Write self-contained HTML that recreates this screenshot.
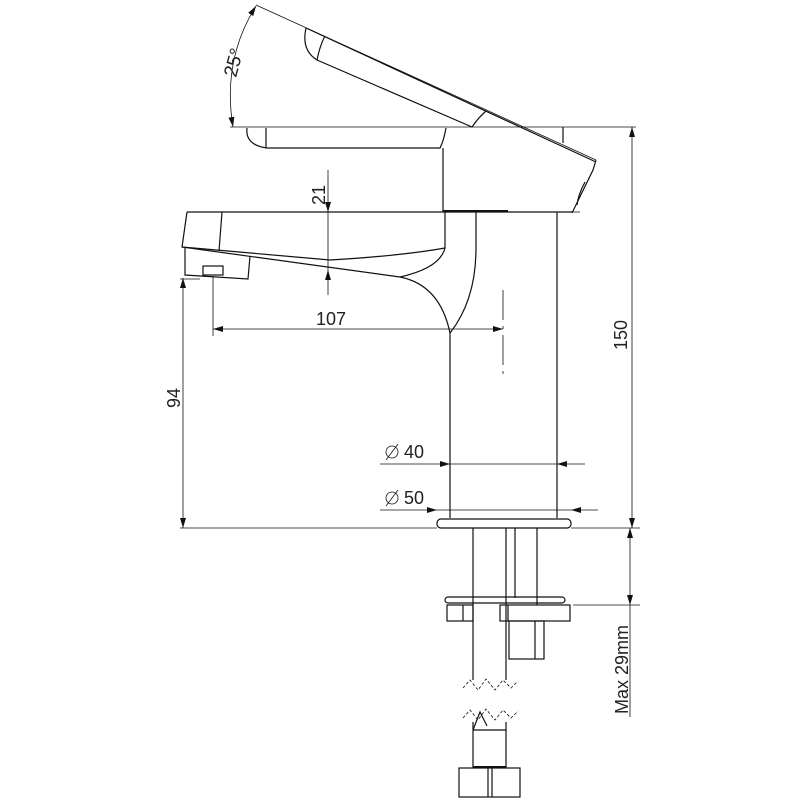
<!DOCTYPE html>
<html><head><style>html,body{margin:0;padding:0;background:#fff}svg{display:block}text{font-family:"Liberation Sans",sans-serif;font-size:18px;fill:#222}</style></head>
<body>
<svg width="800" height="800" viewBox="0 0 800 800" xmlns="http://www.w3.org/2000/svg">
<defs>
<marker id="a" viewBox="0 0 10 6" refX="10" refY="3" markerWidth="10" markerHeight="6" orient="auto-start-reverse" markerUnits="userSpaceOnUse"><path d="M0,0L10,3L0,6z" fill="#111"/></marker>
</defs>
<g fill="none" stroke="#111" stroke-width="1.2">
<line x1="256" y1="5" x2="596" y2="160" stroke-width="0.8"/>
<line x1="306" y1="28" x2="596" y2="162" stroke-width="1.2"/>
<path d="M306,28 Q301,50 317,60 L472,127"/>
<path d="M317,60 Q320,45 325,36"/>
<path d="M472,127 Q478,118 486,111"/>
<path d="M596,160 L593,170 L572,213"/>
<path d="M585,182 Q578,195 577,205"/>
<line x1="230" y1="127" x2="564" y2="127" stroke-width="0.8"/>
<line x1="564" y1="127" x2="636" y2="127" stroke-width="0.8"/>
<path d="M247,128 Q245,145 267,148 L440,148 Q444,140 446,128"/>
<line x1="266" y1="128" x2="266" y2="148"/>
<line x1="443" y1="148" x2="443" y2="212"/>
<line x1="563" y1="127" x2="563" y2="143"/>
<path d="M187,212 L572,212"/>
<line x1="443" y1="211" x2="508" y2="211" stroke-width="2"/>
<path d="M187,212 L182,247 L400,277"/>
<line x1="222" y1="212" x2="219" y2="251"/>
<path d="M182,247 L330,260 Q400,256 445,248 L445,212"/>
<path d="M445,248 Q440,268 400,277"/>
<path d="M400,277 Q440,285 450,333"/>
<path d="M476,212 L476,248 Q476,300 450,333"/>
<path d="M185,248 L185,275 L248,279 L250,256"/>
<rect x="203" y="266" width="20" height="9"/>
<line x1="450" y1="333" x2="450" y2="518"/>
<line x1="557" y1="212" x2="557" y2="518"/>
<rect x="437" y="519" width="134" height="9" rx="4"/>
<line x1="473" y1="528" x2="473" y2="680"/>
<line x1="506" y1="528" x2="506" y2="680"/>
<line x1="515" y1="528" x2="515" y2="598"/>
<line x1="537" y1="528" x2="537" y2="605"/>
<rect x="445" y="597" width="120" height="6" rx="3"/>
<rect x="447" y="605" width="26" height="16"/>
<line x1="463" y1="605" x2="463" y2="621"/>
<rect x="500" y="605" width="70" height="16"/>
<line x1="508" y1="605" x2="508" y2="621"/>
<rect x="509" y="621" width="35" height="38"/>
<line x1="535" y1="621" x2="535" y2="659"/>
<path d="M463,688 L470,680 L478,690 L486,679 L495,690 L503,680 L511,688 L518,681" stroke-dasharray="3,2" stroke-width="0.8"/>
<path d="M463,718 L470,710 L478,720 L486,709 L495,720 L503,710 L511,718 L518,711" stroke-dasharray="3,2" stroke-width="0.8"/>
<path d="M473,730 L480,712 L487,726"/>
<line x1="473" y1="722" x2="473" y2="768"/>
<line x1="506" y1="722" x2="506" y2="768"/>
<line x1="473" y1="730" x2="506" y2="730"/>
<line x1="473" y1="767" x2="506" y2="767" stroke-width="2"/>
<rect x="459" y="768" width="61" height="29"/>
<line x1="488" y1="768" x2="488" y2="797"/>
<line x1="492" y1="768" x2="492" y2="797"/>
</g>
<g fill="none" stroke="#111" stroke-width="0.8">
<path d="M256,6 Q222,60 233,127" marker-start="url(#a)" marker-end="url(#a)"/>
<line x1="328" y1="170" x2="328" y2="212" marker-end="url(#a)"/>
<line x1="328" y1="212" x2="328" y2="270"/>
<line x1="328" y1="295" x2="328" y2="270" marker-end="url(#a)"/>
<line x1="213" y1="329" x2="503" y2="329" marker-start="url(#a)" marker-end="url(#a)"/>
<line x1="213" y1="276" x2="213" y2="336"/>
<line x1="503" y1="290" x2="503" y2="376" stroke-dasharray="30,6,3,6"/>
<line x1="183" y1="278" x2="183" y2="528" marker-start="url(#a)" marker-end="url(#a)"/>
<line x1="180" y1="279" x2="200" y2="279"/>
<line x1="180" y1="528" x2="437" y2="528"/>
<line x1="571" y1="528" x2="640" y2="528"/>
<line x1="632" y1="127" x2="632" y2="528" marker-start="url(#a)" marker-end="url(#a)"/>
<line x1="557" y1="212" x2="580" y2="212"/>
<line x1="380" y1="464" x2="450" y2="464" marker-end="url(#a)"/>
<line x1="450" y1="464" x2="557" y2="464"/>
<line x1="585" y1="464" x2="557" y2="464" marker-end="url(#a)"/>
<line x1="380" y1="510" x2="437" y2="510" marker-end="url(#a)"/>
<line x1="437" y1="510" x2="571" y2="510"/>
<line x1="598" y1="510" x2="571" y2="510" marker-end="url(#a)"/>
<circle cx="392" cy="452" r="6"/><line x1="386" y1="460" x2="398" y2="444"/>
<circle cx="392" cy="498" r="6"/><line x1="386" y1="506" x2="398" y2="490"/>
<line x1="630" y1="528" x2="630" y2="605" marker-start="url(#a)" marker-end="url(#a)"/>
<line x1="630" y1="605" x2="630" y2="717"/>
<line x1="573" y1="605" x2="640" y2="605"/>
</g>
<text transform="translate(236,78) rotate(-75)" style="font-size:19px">25°</text>
<text transform="translate(325,205) rotate(-90)">21</text>
<text x="316" y="325">107</text>
<text transform="translate(180,408) rotate(-90)">94</text>
<text transform="translate(627,350) rotate(-90)">150</text>
<text x="404" y="458">40</text>
<text x="404" y="504">50</text>
<text transform="translate(628,714) rotate(-90)">Max 29mm</text>
</svg>
</body></html>
